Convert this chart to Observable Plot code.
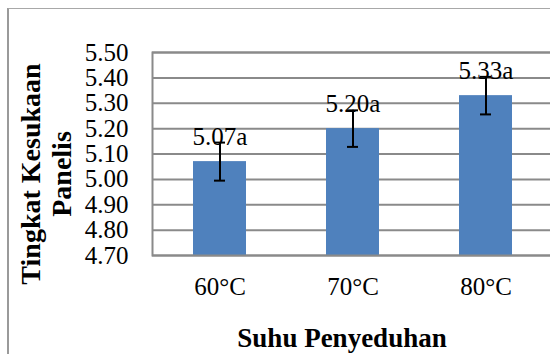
<!DOCTYPE html>
<html>
<head>
<meta charset="utf-8">
<script src="https://cdn.jsdelivr.net/npm/d3@7"></script>
<script src="https://cdn.jsdelivr.net/npm/@observablehq/plot@0.6"></script>
<style>
  html, body { margin: 0; padding: 0; background: #fff; overflow: hidden; width: 550px; height: 354px; }
  #wrap { position: relative; width: 550px; height: 354px; overflow: hidden; }
  #border { position: absolute; left: 7px; top: 8px; width: 700px; height: 500px;
            border-left: 2px solid #9a9a9a; border-top: 1.5px solid #a8a8a8; box-sizing: border-box; }
  #chart { position: absolute; left: 0; top: 0; width: 554px; }
  #chart svg { overflow: visible; max-width: none !important; }
</style>
</head>
<body>
<div id="wrap"><div id="border"></div><div id="chart"></div></div>
<script>
const categories = ["60°C", "70°C", "80°C"];
const values = [5.07, 5.20, 5.33];
const errors = [0.075, 0.072, 0.074];
const letters = ["a", "a", "a"];
const yTicks = [4.70, 4.80, 4.90, 5.00, 5.10, 5.20, 5.30, 5.40, 5.50];
const yTitle = "Tingkat Kesukaan\nPanelis";
const xTitle = "Suhu Penyeduhan";

const data = categories.map((c, i) => ({
  cat: c, value: values[i], lo: values[i] - errors[i], hi: values[i] + errors[i],
  label: values[i].toFixed(2) + letters[i]
}));

const font = "'Liberation Serif', 'Times New Roman', serif";
const grid = "#8a8a8a";

const chart = Plot.plot({
  width: 554,
  height: 354,
  marginLeft: 152,
  marginRight: 1,
  marginTop: 52,
  marginBottom: 99,
  style: { fontFamily: font, fontSize: "25px", color: "#000", background: "transparent", overflow: "visible", maxWidth: "none" },
  x: { domain: categories, paddingInner: 0.6, paddingOuter: 0.3, label: null },
  y: { domain: [4.7, 5.5], label: null },
  marks: [
    Plot.gridY(yTicks, { stroke: grid, strokeOpacity: 1, strokeWidth: 2 }),
    Plot.barY(data, { x: "cat", y1: 4.7, y2: "value", fill: "#4F81BD" }),
    Plot.frame({ stroke: grid, strokeWidth: 2 }),
    Plot.ruleX(data, { x: "cat", y1: "lo", y2: "hi", stroke: "#000", strokeWidth: 2 }),
    Plot.tickY(data, { x: "cat", y: "lo", stroke: "#000", strokeWidth: 2, insetLeft: 21, insetRight: 21 }),
    Plot.tickY(data, { x: "cat", y: "hi", stroke: "#000", strokeWidth: 2, insetLeft: 21, insetRight: 21 }),
    Plot.text(data, { x: "cat", y: "value", text: "label", lineAnchor: "bottom", dy: -17,
      fontSize: 25, fill: "#000" }),
    Plot.axisY(yTicks, { tickSize: 0, tickPadding: 24, tickFormat: d => d.toFixed(2),
      fontSize: 25, fill: "#000", label: null }),
    Plot.axisX({ tickSize: 0, tickPadding: 22, fontSize: 25, fill: "#000", label: null }),
    Plot.text([yTitle], { frameAnchor: "left", rotate: -90, lineAnchor: "top", lineHeight: 1.12,
      textAnchor: "middle", dx: -135, dy: 20, fontSize: 28, fontWeight: "bold", fill: "#000" }),
    Plot.text([xTitle], { frameAnchor: "bottom", lineAnchor: "top", textAnchor: "middle",
      dx: -11, dy: 72, fontSize: 27, fontWeight: "bold", fill: "#000" })
  ]
});
document.getElementById("chart").appendChild(chart);
</script>
</body>
</html>
